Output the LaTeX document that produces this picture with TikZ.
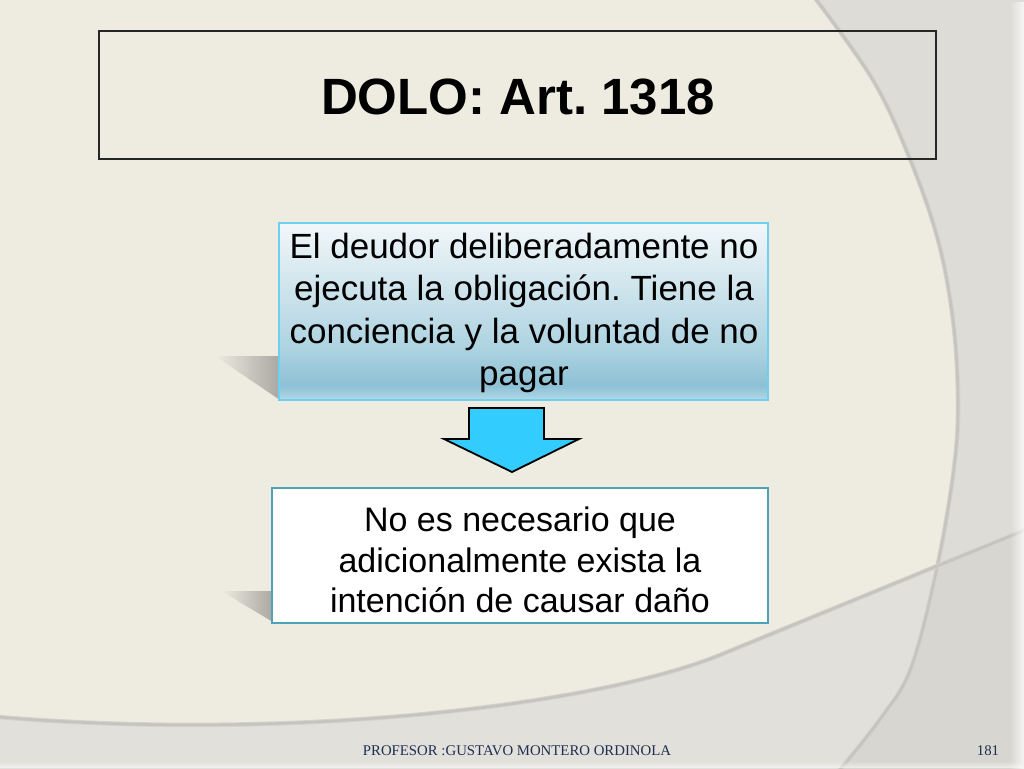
\documentclass[tikz,border=0pt]{standalone}
\usepackage{fontspec}
\setmainfont{Liberation Sans}
\newfontfamily\footfont{Liberation Serif}
\usetikzlibrary{fadings}
\frenchspacing
\definecolor{bgcream}{HTML}{EEEBE1}
\definecolor{bgright}{HTML}{DEDCD6}
\definecolor{bgbottom}{HTML}{E2E0DA}
\definecolor{bgboth}{HTML}{D8D6D0}
\definecolor{edgeline}{HTML}{C6C4BE}
\definecolor{shadowgray}{HTML}{A9A7A1}
\definecolor{boxtop}{HTML}{F2F7F9}
\definecolor{boxmid}{HTML}{AED3E1}
\definecolor{boxlow}{HTML}{8DC1D5}
\definecolor{boxbot}{HTML}{B3D8E6}
\definecolor{boxoneline}{HTML}{6ED0EE}
\definecolor{boxtwoline}{HTML}{4FA3B8}
\definecolor{arrowfill}{HTML}{33CCFF}
\definecolor{footcol}{HTML}{1F2F50}
\pgfdeclareverticalshading{boxoneshade}{100bp}{color(0bp)=(boxbot); color(25bp)=(boxbot); color(29bp)=(boxlow); color(40bp)=(boxmid); color(75bp)=(boxtop); color(100bp)=(boxtop)}
\tikzset{
  textbox/.style={draw, line width=1.6pt, align=center, inner sep=0pt},
  edgestroke/.style={draw=edgeline, line width=2.6pt},
  boxshadow/.style={left color=bgcream, right color=shadowgray},
  foottext/.style={font=\footfont\fontsize{14.8}{16}\selectfont, text=footcol, anchor=base},
}
\begin{document}
\begin{tikzpicture}[x=1pt,y=-1pt]
\useasboundingbox (0,0) rectangle (1024,768);
% background
\fill[bgcream] (0,0) rectangle (1024,768);
\def\arcpath{plot[smooth,tension=0.6] coordinates {(815,-2) (873,80) (910,159) (938,240) (953,320) (958,400) (954,468) (937,568) (911,668) (881,718) (839,771)}}
\def\curvepath{(1030,528) -- (720,655) .. controls (600,704) and (300,742) .. (-2,717)}
\fill[bgright] \arcpath -- (1030,771) -- (1030,-2) -- cycle;
\fill[bgbottom] \curvepath -- (-2,771) -- (1030,771) -- cycle;
\begin{scope}
  \clip \arcpath -- (1030,771) -- (1030,-2) -- cycle;
  \fill[bgboth] \curvepath -- (-2,771) -- (1030,771) -- cycle;
\end{scope}
\draw[edgestroke, line width=4.5pt, draw=edgeline!45!bgbottom] \arcpath;
\draw[edgestroke] \arcpath;
\draw[edgestroke, line width=4.5pt, draw=edgeline!45!bgbottom] \curvepath;
\draw[edgestroke] \curvepath;
\fill[white, path fading=west, opacity=0.75] (1010,0) rectangle (1024,768);
\fill[white, path fading=north, opacity=0.6] (0,761) rectangle (1024,768);
% title
\node[draw=black!85, line width=1.2pt, minimum width=837pt, minimum height=128pt, inner sep=0pt] (title) at (517.5,95) {};
\node[font=\fontsize{51}{60}\selectfont\bfseries] (titletext) at (518,97) {DOLO: Art. 1318};
% shadows
\shade[boxshadow] (215,356) -- (280,356) -- (280,400) -- cycle;
\shade[boxshadow] (221,591) -- (273,591) -- (273,622) -- cycle;
% box 1
\node[textbox, draw=boxoneline, shading=boxoneshade, minimum width=489pt, minimum height=177pt] (boxone) at (523.5,311.5) {};
\node[align=center, font=\fontsize{35}{42.3}\selectfont] (boxonetext) at (524,313) {El deudor deliberadamente no\\ejecuta la obligación. Tiene la\\conciencia y la voluntad de no\\pagar};
% arrow
\draw[fill=arrowfill, line width=1.8pt, line join=miter] (469,408) -- (544,408) -- (544,439) -- (579,439) -- (512,472) -- (444,439) -- (469,439) -- cycle;
% box 2
\node[textbox, draw=boxtwoline, fill=white, minimum width=496pt, minimum height=135pt] (boxtwo) at (520,555.5) {};
\node[align=center, font=\fontsize{34}{40.5}\selectfont] (boxtwotext) at (520,560) {No es necesario que\\adicionalmente exista la\\intención de causar daño};
% footer
\node[foottext] (footer) at (517,755) {PROFESOR :GUSTAVO MONTERO ORDINOLA};
\node[foottext] (pagenum) at (988,755) {181};
\end{tikzpicture}
\end{document}
